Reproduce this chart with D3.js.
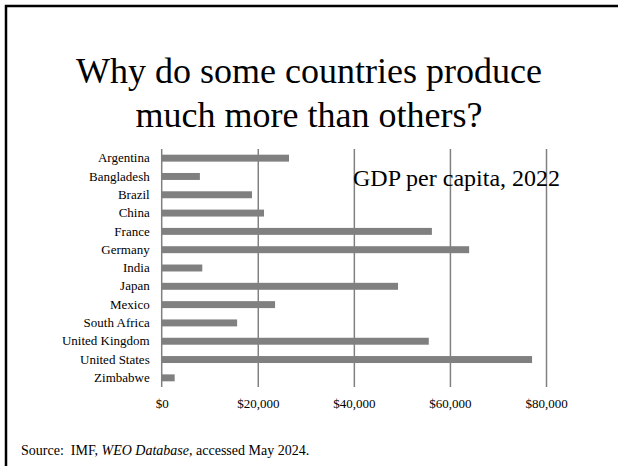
<!DOCTYPE html>
<html>
<head>
<meta charset="utf-8">
<script src="https://cdn.jsdelivr.net/npm/d3@7"></script>
<style>
  body { margin: 0; background: #fff; }
  svg, svg text { font-family: "Liberation Serif", "Times New Roman", Times, "DejaVu Serif", serif !important; }
</style>
</head>
<body>
<div id="chart"></div>
<script>
  // Data (GDP per capita, 2022, US$)
  const countries = ['Argentina', 'Bangladesh', 'Brazil', 'China', 'France', 'Germany', 'India',
    'Japan', 'Mexico', 'South Africa', 'United Kingdom', 'United States', 'Zimbabwe'];
  const gdpValues = [26500, 7950, 18800, 21300, 56250, 64000, 8450, 49200, 23600, 15700, 55600, 77100, 2700];
  const xTicks = [0, 20000, 40000, 60000, 80000];

  const width = 618, height = 466;
  const plot = { left: 161.7, right: 546, top: 149, bottom: 387 };
  const serif = '"Liberation Serif", "Times New Roman", Times, "DejaVu Serif", serif';

  const svg = d3.select('#chart')
    .append('svg')
    .attr('width', width)
    .attr('height', height)
    .attr('font-family', serif);

  // Slide frame (only top and left edges visible)
  svg.append('path')
    .attr('d', `M6,${height + 5} L6,6 L${width + 5},6`)
    .attr('fill', 'none')
    .attr('stroke', '#000')
    .attr('stroke-width', 2.5);

  // Title
  const title = svg.append('text')
    .attr('text-anchor', 'middle')
    .attr('font-size', 36)
    .attr('fill', '#000');
  title.append('tspan').attr('x', width / 2).attr('y', 83).text('Why do some countries produce');
  title.append('tspan').attr('x', width / 2).attr('y', 127).text('much more than others?');

  // Scales
  const xScale = d3.scaleLinear()
    .domain([0, 80000])
    .range([plot.left, plot.right]);

  const yScale = d3.scaleBand()
    .domain(countries)
    .range([plot.top, plot.bottom])
    .paddingInner(0.62)
    .paddingOuter(0.31);

  // Vertical grid lines
  svg.append('g')
    .attr('class', 'grid')
    .attr('transform', `translate(0,${plot.bottom})`)
    .call(d3.axisBottom(xScale)
      .tickValues(xTicks.slice(1))
      .tickSize(-(plot.bottom - plot.top))
      .tickFormat(''))
    .call(g => g.select('.domain').remove())
    .call(g => g.selectAll('line').attr('stroke', '#808080').attr('stroke-width', 1.5));

  // Bars
  svg.selectAll('.bar')
    .data(countries)
    .enter()
    .append('rect')
    .attr('class', 'bar')
    .attr('x', xScale(0))
    .attr('y', d => yScale(d))
    .attr('width', (d, i) => xScale(gdpValues[i]) - xScale(0))
    .attr('height', yScale.bandwidth())
    .attr('fill', '#808080');

  // Category axis (left)
  svg.append('g')
    .attr('transform', `translate(${plot.left},0)`)
    .call(d3.axisLeft(yScale).tickSize(0).tickPadding(12))
    .attr('font-family', serif)
    .attr('font-size', 13)
    .call(g => g.select('.domain')
      .attr('d', `M0,${plot.top}V${plot.bottom}`)
      .attr('stroke', '#808080')
      .attr('stroke-width', 1.5))
    .call(g => g.selectAll('text').attr('fill', '#000'));

  // Value axis labels (bottom)
  svg.append('g')
    .attr('transform', `translate(0,${plot.bottom})`)
    .call(d3.axisBottom(xScale)
      .tickValues(xTicks)
      .tickSize(0)
      .tickPadding(12)
      .tickFormat(d => '$' + d3.format(',')(d)))
    .attr('font-family', serif)
    .attr('font-size', 13)
    .call(g => g.select('.domain').remove())
    .call(g => g.selectAll('text').attr('fill', '#000'));

  // Chart title inside plot
  svg.append('text')
    .attr('x', 353)
    .attr('y', 186)
    .attr('font-size', 24)
    .attr('fill', '#000')
    .text('GDP per capita, 2022');

  // Source note
  const source = svg.append('text')
    .attr('x', 21)
    .attr('y', 455)
    .attr('font-size', 14)
    .attr('fill', '#000')
    .attr('xml:space', 'preserve');
  source.append('tspan').text('Source:  IMF, ');
  source.append('tspan').attr('font-style', 'italic').text('WEO Database');
  source.append('tspan').text(', accessed May 2024.');
</script>
</body>
</html>
